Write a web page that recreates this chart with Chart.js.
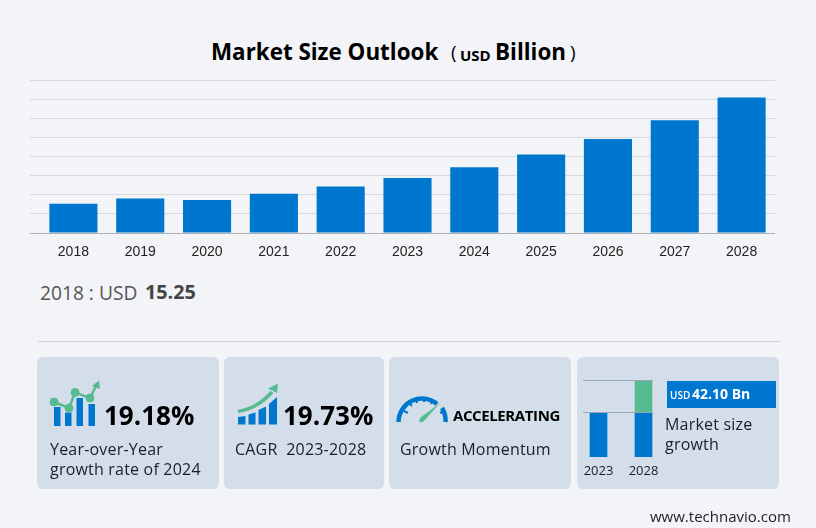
<!DOCTYPE html>
<html>
<head>
<meta charset="utf-8">
<title>Market Size Outlook</title>
<script src="https://cdn.jsdelivr.net/npm/chart.js@4"></script>
<style>
  html, body { margin: 0; padding: 0; background: #f3f4f7; }
  body { position: relative; width: 816px; height: 528px; overflow: hidden; font-family: "Open Sans", "Noto Sans", sans-serif; color: #1c1f24; }
  .t { position: absolute; white-space: nowrap; line-height: 1; }
  .b { font-weight: 700; color: #000; }
  .l { letter-spacing: 0.2px; }
  .card { position: absolute; top: 357px; height: 132px; background: #d3deea; border-radius: 6px; }
  .rule { position: absolute; left: 38px; top: 341px; width: 743px; height: 1px; background: #cfd2d8; }
  .tag { position: absolute; left: 667px; top: 381px; width: 109px; height: 27px; background: #0077cf; }
  canvas { display: block; }
  .wrap { position: absolute; }
  svg { position: absolute; left: 0; top: 0; }
</style>
</head>
<body>
<div class="t b" style="left:211px;top:41px;font-size:22.4px">Market Size Outlook</div>
<div class="t" style="left:451px;top:43px;font-size:19px;color:#000">(</div>
<div class="t b" style="left:460px;top:48px;font-size:15px">USD</div>
<div class="t b" style="left:495px;top:41px;font-size:22.4px">Billion</div>
<div class="t" style="left:570px;top:43px;font-size:19px;color:#000">)</div>

<div class="wrap" style="left:30px;top:70px;width:745px;height:190px"><canvas id="marketChart"></canvas></div>

<div class="t" style="left:40px;top:283px;font-size:19.2px;color:#555">2018 : USD</div>
<div class="t" style="left:145px;top:282px;font-size:19.8px;font-weight:700;color:#444">15.25</div>
<div class="rule"></div>

<div class="card" style="left:37px;width:182px"></div>
<div class="card" style="left:224px;width:160px"></div>
<div class="card" style="left:389px;width:182px"></div>
<div class="card" style="left:577px;width:202px"></div>

<svg width="816" height="528">
  <!-- year-over-year icon -->
  <g fill="#0077cf">
    <rect x="54" y="407" width="6.5" height="19"/>
    <rect x="65" y="412.5" width="6.5" height="13.5"/>
    <rect x="76.5" y="398" width="6.5" height="28"/>
    <rect x="88.5" y="404" width="6.5" height="22"/>
  </g>
  <g fill="#57bb92" stroke="#57bb92">
    <polyline points="54,402 69,408 75,392.5 90,398 97,384" fill="none" stroke-width="2.5"/>
    <circle cx="54" cy="402" r="4"/><circle cx="69" cy="408" r="4"/>
    <circle cx="75" cy="392.5" r="4"/><circle cx="90" cy="398" r="4"/>
    <polygon points="99,380.5 100,389 92,386" stroke="none"/>
  </g>
  <!-- cagr icon -->
  <g fill="#0077cf">
    <polygon points="238,417 245.5,416 245.5,424.5 238,424.5"/>
    <polygon points="248.5,414.5 255.5,412.5 255.5,424.5 248.5,424.5"/>
    <polygon points="258.5,410 266,406.5 266,424.5 258.5,424.5"/>
    <polygon points="269,404 277,397 277,424.5 269,424.5"/>
  </g>
  <path d="M238 411.5 Q258 408 272 392" fill="none" stroke="#57bb92" stroke-width="3.5"/>
  <polygon points="278,383.5 277,393 268,388.5" fill="#57bb92"/>
  <!-- gauge icon -->
  <path d="M398.5 422 A23.5 23.5 0 0 1 437 404" fill="none" stroke="#0077cf" stroke-width="4.5"/>
  <path d="M442 408 A23.5 23.5 0 0 1 445.5 422" fill="none" stroke="#0077cf" stroke-width="4.5"/>
  <g stroke="#0077cf" stroke-width="2">
    <line x1="404" y1="411" x2="408" y2="413"/>
    <line x1="409" y1="403" x2="412" y2="406"/>
    <line x1="416" y1="399" x2="417" y2="403"/>
    <line x1="424" y1="398" x2="424" y2="402"/>
    <line x1="432" y1="400" x2="431" y2="404"/>
    <line x1="440" y1="413" x2="444" y2="411"/>
  </g>
  <polygon points="440.5,402.5 423,422 419,422 420,418" fill="#57bb92"/>
</svg>

<div class="t b" style="left:104px;top:402px;font-size:26px">19.18%</div>
<div class="t l" style="left:50px;top:441px;font-size:16px">Year-over-Year</div>
<div class="t l" style="left:50px;top:461px;font-size:16px">growth rate of 2024</div>
<div class="t b" style="left:283px;top:402px;font-size:26px">19.73%</div>
<div class="t l" style="left:235px;top:441px;font-size:16px">CAGR&nbsp; 2023-2028</div>
<div class="t b" style="left:453px;top:408px;font-size:15px;letter-spacing:-0.4px">ACCELERATING</div>
<div class="t l" style="left:400px;top:441px;font-size:16px">Growth Momentum</div>

<div class="wrap" style="left:576px;top:372px;width:90px;height:108px"><canvas id="miniChart"></canvas></div>

<div class="tag"></div>
<div class="t" style="left:670px;top:390px;font-size:10px;font-weight:600;color:#fff">USD</div>
<div class="t" style="left:692px;top:387px;font-size:14px;font-weight:700;color:#fff">42.10 Bn</div>
<div class="t l" style="left:665px;top:416px;font-size:16px">Market size</div>
<div class="t l" style="left:665px;top:436px;font-size:16px">growth</div>
<div class="t" style="left:650px;top:509px;font-size:15px">www.technavio.com</div>

<script>
// main bar chart data, USD billion
const years = ["2018", "2019", "2020", "2021", "2022", "2023", "2024", "2025", "2026", "2027", "2028"];
const marketSize = [15.25, 18.0, 17.2, 20.5, 24.3, 28.8, 34.4, 41.1, 49.1, 59.0, 70.8];
const yMax = 80;
const yStep = 10;

// small 2023 vs 2028 chart (illustrative shares, not to scale with the main one)
const miniYears = ["2023", "2028"];
const miniBase = [58, 58];
const miniGrowth = [0, 42];
const miniLines = [58, 100];

const blue = "#0077cf";
const green = "#57bb92";

new Chart(document.getElementById("marketChart"), {
  type: "bar",
  data: {
    labels: years,
    datasets: [{ data: marketSize, backgroundColor: blue, borderWidth: 0, barPercentage: 0.72, categoryPercentage: 1 }],
  },
  options: {
    responsive: true,
    maintainAspectRatio: false,
    animation: false,
    layout: { padding: { top: 10 } },
    plugins: { legend: { display: false }, tooltip: { enabled: false } },
    scales: {
      x: {
        grid: { display: false, drawTicks: false },
        border: { display: false },
        ticks: { color: "#222", font: { family: "Liberation Sans", size: 14 }, padding: 11, maxRotation: 0 },
        afterFit: (s) => { s.height = 27; },
      },
      y: {
        min: 0,
        max: yMax,
        ticks: { stepSize: yStep, callback: () => "", padding: 0 },
        border: { display: false },
        grid: {
          tickLength: 10,
          lineWidth: 1,
          color: (c) => (c.tick && c.tick.value === 0 ? "#aeb0b4" : "#d8d9dd"),
        },
        afterFit: (s) => { s.width = 10; },
      },
    },
  },
});

// reference lines only span the bars, so they are drawn off the y scale
const miniLinesPlugin = {
  id: "miniLines",
  afterDatasetsDraw(chart) {
    const ctx = chart.ctx;
    ctx.save();
    ctx.strokeStyle = "#9aa7b5";
    ctx.lineWidth = 1;
    miniLines.forEach((v) => {
      const y = Math.round(chart.scales.y.getPixelForValue(v)) + 0.5;
      ctx.beginPath();
      ctx.moveTo(7, y);
      ctx.lineTo(77, y);
      ctx.stroke();
    });
    ctx.restore();
  },
};

new Chart(document.getElementById("miniChart"), {
  type: "bar",
  data: {
    labels: miniYears,
    datasets: [
      { data: miniBase, backgroundColor: blue, borderWidth: 0, barThickness: 17 },
      { data: miniGrowth, backgroundColor: green, borderWidth: 0, barThickness: 17 },
    ],
  },
  options: {
    responsive: true,
    maintainAspectRatio: false,
    animation: false,
    layout: { padding: { top: 8 } },
    plugins: { legend: { display: false }, tooltip: { enabled: false } },
    scales: {
      x: {
        stacked: true,
        grid: { display: false, drawTicks: false },
        border: { display: false },
        ticks: { color: "#1c1f24", font: { family: "Open Sans", size: 13 }, padding: 6, maxRotation: 0 },
        afterFit: (s) => { s.height = 23; },
      },
      y: { stacked: true, display: false, min: 0, max: 100 },
    },
  },
  plugins: [miniLinesPlugin],
});
</script>
</body>
</html>
